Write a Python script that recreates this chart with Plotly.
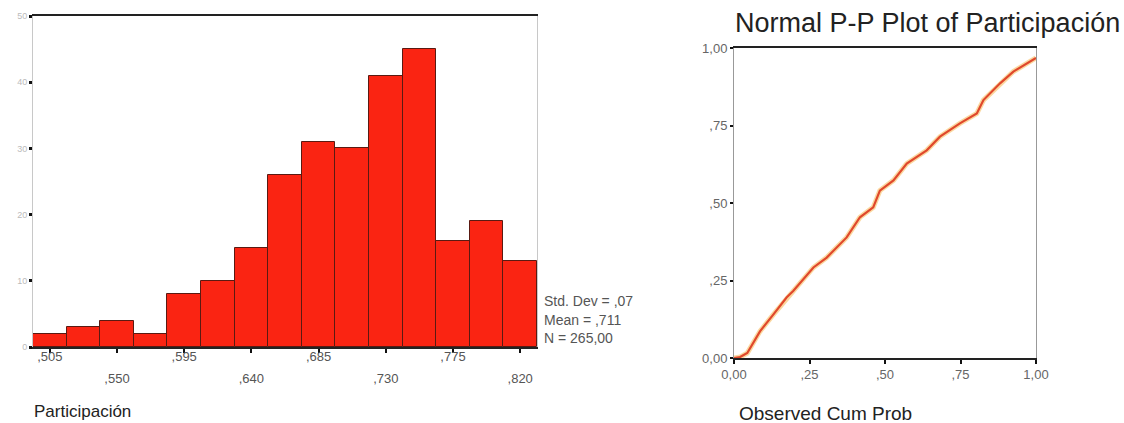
import plotly.graph_objects as go

# ---- Histogram data ----
bin_centers = [0.505, 0.5275, 0.550, 0.5725, 0.595, 0.6175, 0.640, 0.6625,
               0.685, 0.7075, 0.730, 0.7525, 0.775, 0.7975, 0.820]
counts = [2, 3, 4, 2, 8, 10, 15, 26, 31, 30, 41, 45, 16, 19, 13]
bin_width = 0.0225
x_tick_vals_row1 = [0.505, 0.595, 0.685, 0.775]
x_tick_text_row1 = [",505", ",595", ",685", ",775"]
x_tick_vals_row2 = [0.550, 0.640, 0.730, 0.820]
x_tick_text_row2 = [",550", ",640", ",730", ",820"]
y_tick_vals = [0, 10, 20, 30, 40, 50]
y_tick_text = ["0", "10", "20", "30", "40", "50"]
stats_lines = ["Std. Dev = ,07", "Mean = ,711", "N = 265,00"]

# ---- P-P plot data ----
observed = [0.0, 0.02, 0.044, 0.086, 0.13, 0.174, 0.196, 0.263, 0.307, 0.373,
            0.417, 0.461, 0.483, 0.528, 0.572, 0.638, 0.682, 0.748, 0.804,
            0.826, 0.881, 0.925, 1.0]
expected = [0.0, 0.003, 0.016, 0.086, 0.14, 0.195, 0.216, 0.292, 0.324, 0.389,
            0.454, 0.486, 0.54, 0.573, 0.627, 0.670, 0.714, 0.757, 0.789,
            0.832, 0.886, 0.924, 0.968]
pp_ticks = [0, 0.25, 0.5, 0.75, 1.0]
pp_tick_text = ["0,00", ",25", ",50", ",75", "1,00"]

W, H = 1124, 423
FONT = "Arial, Liberation Sans, sans-serif"

def px_x(p):
    return p / W

def px_y(p):
    return 1 - p / H

fig = go.Figure()

fig.add_trace(go.Bar(
    x=bin_centers, y=counts, width=[bin_width] * len(counts),
    marker=dict(color="#fa2412", line=dict(color="#5a1a12", width=1)),
    xaxis="x", yaxis="y", showlegend=False, hoverinfo="x+y"))

# invisible traces for overlay axes carrying the two rows of tick labels
for ax in ("x3", "x4"):
    fig.add_trace(go.Scatter(x=[bin_centers[0]], y=[0], mode="markers",
                             marker=dict(opacity=0), xaxis=ax, yaxis="y",
                             showlegend=False, hoverinfo="skip"))

fig.add_trace(go.Scatter(
    x=observed, y=expected, mode="lines",
    line=dict(color="rgba(250,200,120,0.7)", width=5),
    xaxis="x2", yaxis="y2", showlegend=False, hoverinfo="skip"))
fig.add_trace(go.Scatter(
    x=observed, y=expected, mode="lines",
    line=dict(color="#e0482c", width=2.2),
    xaxis="x2", yaxis="y2", showlegend=False))

hist_x_domain = [px_x(33), px_x(537)]
hist_y_domain = [px_y(347), px_y(16)]
hist_range = [bin_centers[0] - bin_width / 2, bin_centers[-1] + bin_width / 2]
row_font = dict(size=13, color="#555")

fig.update_layout(
    width=W, height=H, margin=dict(l=0, r=0, t=0, b=0),
    paper_bgcolor="white", plot_bgcolor="white",
    font=dict(family=FONT, color="#333"),
    bargap=0,
    xaxis=dict(domain=hist_x_domain, range=hist_range, anchor="y",
               tickvals=x_tick_vals_row1 + x_tick_vals_row2,
               showticklabels=False,
               ticks="outside", ticklen=4, tickwidth=2, tickcolor="#111",
               showline=True, linecolor="#222", linewidth=1.5, mirror=True,
               showgrid=False, zeroline=False, fixedrange=True, automargin=False),
    xaxis3=dict(overlaying="x", anchor="y", matches="x", range=hist_range,
                tickvals=x_tick_vals_row1, ticktext=x_tick_text_row1,
                ticks="", ticklabelstandoff=0, tickfont=row_font,
                showline=False, showgrid=False, zeroline=False, automargin=False),
    xaxis4=dict(overlaying="x", anchor="y", matches="x", range=hist_range,
                tickvals=x_tick_vals_row2, ticktext=x_tick_text_row2,
                ticks="", ticklabelstandoff=22, tickfont=row_font,
                showline=False, showgrid=False, zeroline=False, automargin=False),
    yaxis=dict(domain=hist_y_domain, range=[0, 50], anchor="x",
               tickvals=y_tick_vals, ticktext=y_tick_text,
               ticks="outside", ticklen=3, tickwidth=3, tickcolor="#111",
               tickfont=dict(size=9, color="#bbb"),
               showline=True, linecolor="#c8c8c8", linewidth=1, mirror=True,
               showgrid=False, zeroline=False, automargin=False),
    xaxis2=dict(domain=[px_x(734), px_x(1036)], range=[0, 1], anchor="y2",
                tickvals=pp_ticks, ticktext=pp_tick_text,
                ticks="outside", ticklen=4, tickwidth=2, tickcolor="#111",
                tickfont=dict(size=13, color="#666"), ticklabelstandoff=0,
                showline=True, linecolor="#222", linewidth=1.5, mirror=True,
                showgrid=False, zeroline=False, automargin=False),
    yaxis2=dict(domain=[px_y(358), px_y(48)], range=[0, 1], anchor="x2",
                tickvals=pp_ticks, ticktext=pp_tick_text,
                ticks="outside", ticklen=3, tickwidth=2, tickcolor="#111",
                tickfont=dict(size=13, color="#666"),
                showline=True, linecolor="#999", linewidth=1, mirror=True,
                showgrid=False, zeroline=False, automargin=False),
)

annotations = []
for i, line in enumerate(stats_lines):
    annotations.append(dict(text=line, xref="paper", yref="paper",
                            x=px_x(542), y=px_y(301 + 18.5 * i),
                            xanchor="left", yanchor="middle", showarrow=False,
                            font=dict(size=14, color="#555", family=FONT)))
annotations.append(dict(text="Participación", xref="paper", yref="paper",
                        x=px_x(32), y=px_y(411), xanchor="left", yanchor="middle",
                        showarrow=False, font=dict(size=17, color="#222", family=FONT)))
annotations.append(dict(text="Normal P-P Plot of Participación", xref="paper", yref="paper",
                        x=px_x(927), y=px_y(23), xanchor="center", yanchor="middle",
                        showarrow=False, font=dict(size=27, color="#222", family=FONT)))
annotations.append(dict(text="Observed Cum Prob", xref="paper", yref="paper",
                        x=px_x(737), y=px_y(413), xanchor="left", yanchor="middle",
                        showarrow=False, font=dict(size=19, color="#222", family=FONT)))
fig.update_layout(annotations=annotations)

fig.write_html("out.html")
